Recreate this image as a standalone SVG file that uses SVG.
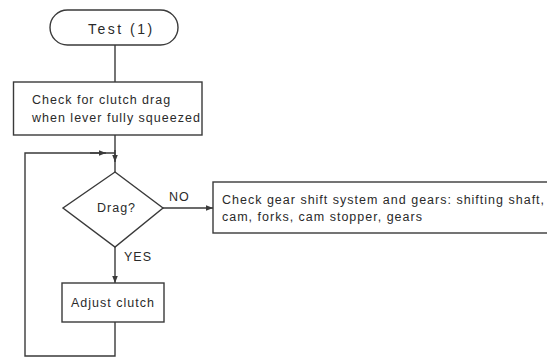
<svg xmlns="http://www.w3.org/2000/svg" width="547" height="358" viewBox="0 0 547 358">
  <style>
    .shape { fill: #ffffff; stroke: #3a3a3a; stroke-width: 1.4; }
    .line { fill: none; stroke: #3a3a3a; stroke-width: 1.4; }
    .txt { font-family: "Liberation Sans", Arial, sans-serif; font-size: 12.5px; letter-spacing: 1px; fill: #2a2a2a; }
    .big { font-size: 14px; letter-spacing: 2.5px; }
  </style>
  <defs>
    <marker id="arrow" viewBox="0 0 10 10" refX="10" refY="5" markerWidth="7" markerHeight="7" markerUnits="userSpaceOnUse" orient="auto">
      <path d="M0,1 L10,5 L0,9 z" fill="#3a3a3a"/>
    </marker>
  </defs>
  <rect width="547" height="358" fill="#ffffff"/>

  <g id="connectors">
    <!-- start to first check -->
    <line class="line" x1="115" y1="45" x2="115" y2="82"/>
    <!-- first check down to decision -->
    <line class="line" x1="115" y1="135" x2="115" y2="172"/>
    <line class="line" x1="115" y1="150" x2="115" y2="162" marker-end="url(#arrow)"/>
    <!-- NO branch -->
    <line class="line" x1="163" y1="208" x2="213" y2="208" marker-end="url(#arrow)"/>
    <!-- YES branch -->
    <line class="line" x1="115" y1="247" x2="115" y2="283" marker-end="url(#arrow)"/>
    <!-- loop back from adjust clutch -->
    <polyline class="line" points="115,322 115,356 25,356 25,153 115,153"/>
    <line class="line" x1="90" y1="153" x2="106" y2="153" marker-end="url(#arrow)"/>
    <text class="txt" x="169" y="201">NO</text>
    <text class="txt" x="124" y="261">YES</text>
  </g>

  <g id="start">
    <rect class="shape" x="50" y="10" width="128" height="35" rx="17.5" ry="17.5"/>
    <text class="txt big" x="88" y="34">Test (1)</text>
  </g>

  <g id="check-drag">
    <rect class="shape" x="13.5" y="82" width="188.5" height="53"/>
    <text class="txt" x="32" y="104">Check for clutch drag</text>
    <text class="txt" x="32" y="122">when lever fully squeezed</text>
  </g>

  <g id="decision">
    <polygon class="shape" points="115,172 163,208 115,247 63,208"/>
    <text class="txt" x="97" y="212">Drag?</text>
  </g>

  <g id="check-gears">
    <rect class="shape" x="213" y="182" width="345" height="51"/>
    <text class="txt" x="222" y="204">Check gear shift system and gears: shifting shaft,</text>
    <text class="txt" x="222" y="221">cam, forks, cam stopper, gears</text>
  </g>

  <g id="adjust">
    <rect class="shape" x="62" y="283" width="102" height="39"/>
    <text class="txt" x="71" y="307">Adjust clutch</text>
  </g>
</svg>
